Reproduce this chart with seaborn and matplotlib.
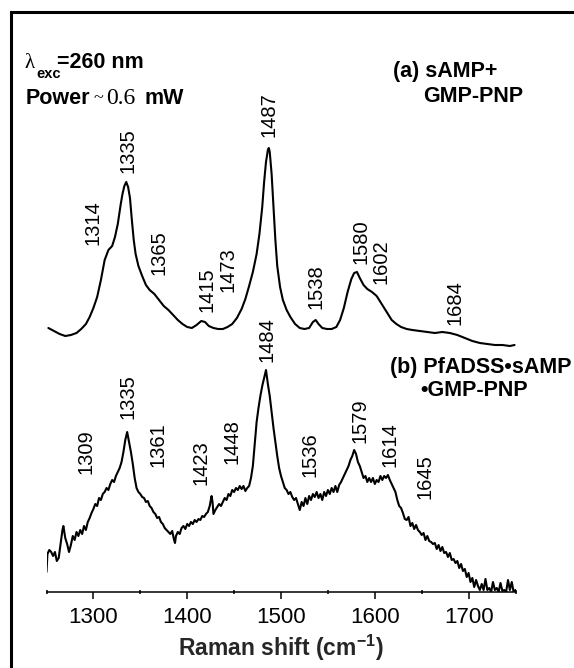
import matplotlib
matplotlib.use("Agg")
import matplotlib.pyplot as plt
import matplotlib.patches as mpatches
from matplotlib.ticker import MultipleLocator
import seaborn as sns
import pandas as pd

# Spectrum (a): sAMP + GMP-PNP (intensity in arbitrary units, offset upward)
wn_a = [1252, 1258, 1264, 1270, 1276, 1282, 1287, 1292, 1296, 1300, 1304, 1308,
        1312, 1316, 1320, 1323, 1326, 1329, 1331, 1333, 1335, 1337, 1339, 1341,
        1343, 1345, 1348, 1352, 1356, 1360, 1365, 1370, 1375, 1380, 1385, 1390,
        1395, 1400, 1405, 1410, 1415, 1419, 1423, 1428, 1433, 1438, 1443, 1448,
        1453, 1458, 1462, 1466, 1470, 1474, 1477, 1480, 1482, 1484, 1486, 1487,
        1488, 1490, 1492, 1494, 1496, 1499, 1502, 1506, 1510, 1515, 1520, 1525,
        1530, 1534, 1537, 1540, 1544, 1549, 1554, 1559, 1563, 1567, 1571, 1575,
        1578, 1581, 1584, 1588, 1592, 1597, 1602, 1606, 1610, 1614, 1618, 1623,
        1628, 1634, 1640, 1648, 1656, 1664, 1672, 1680, 1688, 1696, 1704, 1712,
        1720, 1728, 1736, 1744, 1749]
int_a = [264, 261, 258, 256, 257, 259, 263, 268, 275, 284, 295, 312,
         332, 342, 346, 355, 368, 387, 398, 406, 410, 405, 394, 372,
         352, 338, 326, 316, 307, 302, 298, 292, 286, 282, 277, 272,
         268, 265, 264, 267, 271, 270, 266, 264, 263, 263, 265, 268,
         274, 283, 293, 306, 320, 338, 358, 385, 410, 430, 442, 444,
         440, 418, 385, 352, 326, 305, 292, 282, 275, 268, 264, 263,
         264, 270, 272, 268, 264, 263, 263, 265, 272, 284, 300, 313,
         319, 320, 314, 307, 303, 300, 296, 290, 284, 278, 272, 268,
         265, 263, 262, 261, 260, 259, 260, 259, 257, 254, 251, 249,
         248, 247, 247, 246, 247]

# Spectrum (b): PfADSS•sAMP•GMP-PNP complex
wn_b = [1250, 1251, 1253, 1255, 1257, 1259, 1261, 1263, 1265, 1267, 1268, 1270,
        1272, 1274, 1276, 1278, 1280, 1282, 1284, 1286, 1288, 1290, 1292, 1294,
        1296, 1298, 1300, 1302, 1304, 1306, 1308, 1310, 1312, 1314, 1316, 1318,
        1320, 1322, 1324, 1326, 1328, 1330, 1332, 1334, 1336, 1338, 1340, 1342,
        1344, 1346, 1348, 1350, 1352, 1354, 1356, 1358, 1360, 1362, 1364, 1366,
        1368, 1370, 1372, 1374, 1376, 1378, 1380, 1382, 1384, 1386, 1387, 1388,
        1390, 1392, 1394, 1396, 1398, 1400, 1402, 1404, 1406, 1408, 1410, 1412,
        1414, 1416, 1418, 1420, 1422, 1424, 1426, 1427, 1428, 1430, 1432, 1434,
        1436, 1438, 1440, 1442, 1444, 1446, 1448, 1450, 1452, 1454, 1456, 1458,
        1460, 1462, 1464, 1466, 1468, 1470, 1472, 1474, 1476, 1478, 1480, 1482,
        1484, 1486, 1488, 1490, 1492, 1494, 1496, 1498, 1500, 1502, 1504, 1506,
        1508, 1510, 1512, 1514, 1516, 1518, 1520, 1522, 1524, 1526, 1528, 1530,
        1532, 1534, 1536, 1538, 1540, 1542, 1544, 1546, 1548, 1550, 1552, 1554,
        1556, 1558, 1560, 1562, 1564, 1566, 1568, 1570, 1572, 1574, 1576, 1578,
        1580, 1582, 1584, 1586, 1588, 1590, 1592, 1594, 1596, 1598, 1600, 1602,
        1604, 1606, 1608, 1610, 1612, 1614, 1616, 1618, 1620, 1622, 1624, 1626,
        1628, 1630, 1632, 1634, 1636, 1638, 1640, 1642, 1644, 1646, 1648, 1650,
        1652, 1654, 1656, 1658, 1660, 1662, 1664, 1666, 1668, 1670, 1672, 1674,
        1676, 1678, 1680, 1682, 1684, 1686, 1688, 1690, 1692, 1694, 1696, 1698,
        1700, 1702, 1704, 1706, 1708, 1710, 1712, 1714, 1716, 1718, 1720, 1722,
        1724, 1726, 1728, 1730, 1732, 1734, 1736, 1738, 1740, 1742, 1744, 1746,
        1748, 1750]
int_b = [20, 38, 42, 40, 36, 40, 31, 34, 48, 62, 66, 54,
         48, 40, 47, 56, 52, 60, 56, 62, 58, 66, 62, 70,
         74, 79, 83, 88, 86, 94, 92, 98, 100, 104, 102, 108,
         112, 110, 116, 120, 124, 130, 140, 152, 160, 150, 140, 128,
         114, 104, 100, 98, 95, 94, 90, 91, 86, 84, 80, 78,
         74, 75, 70, 68, 64, 62, 60, 58, 61, 52, 49, 56,
         60, 58, 64, 66, 63, 68, 66, 70, 68, 72, 70, 73,
         72, 76, 75, 78, 80, 86, 96, 90, 78, 82, 85, 88,
         86, 90, 94, 92, 98, 96, 102, 100, 104, 102, 106, 103,
         106, 101, 104, 106, 114, 126, 148, 170, 184, 196, 206, 214,
         222, 208, 196, 180, 164, 150, 136, 124, 116, 110, 104, 102,
         98, 100, 95, 92, 94, 88, 82, 90, 86, 94, 88, 96,
         92, 98, 95, 100, 94, 98, 92, 100, 96, 102, 98, 104,
         100, 106, 100, 107, 110, 114, 118, 122, 126, 132, 136, 142,
         138, 130, 126, 120, 114, 116, 110, 114, 110, 114, 108, 112,
         110, 116, 112, 116, 114, 117, 112, 108, 104, 100, 92, 86,
         84, 79, 73, 72, 75, 66, 69, 63, 67, 62, 60, 57,
         59, 52, 56, 51, 50, 48, 49, 43, 47, 41, 45, 39,
         40, 35, 39, 32, 33, 29, 31, 24, 28, 21, 23, 15,
         19, 10, 14, 5, 12, 6, 2, 8, 2, 13, 2, 4,
         0, 10, 2, 4, 0, 9, 1, 2, 0, 12, 2, 10,
         0, 2]

# Band assignments: label text, x position, y position
labels_a = [("1314", 1299.6, 369), ("1335", 1336.9, 441), ("1365", 1369.9, 339),
            ("1415", 1420.6, 302), ("1473", 1444.0, 322), ("1487", 1487.2, 477),
            ("1538", 1537.3, 305), ("1580", 1585.8, 350), ("1602", 1607.1, 330),
            ("1684", 1685.5, 289)]
labels_b = [("1309", 1292.1, 140), ("1335", 1337.4, 195), ("1361", 1368.9, 147),
            ("1423", 1415.2, 129), ("1448", 1447.7, 150), ("1484", 1485.6, 252),
            ("1536", 1530.9, 137), ("1579", 1584.2, 171), ("1614", 1616.2, 147),
            ("1645", 1653.5, 115)]

x_ticks = [1300, 1400, 1500, 1600, 1700]

sns.set_style("white")
plt.rcParams["font.family"] = ["Liberation Sans", "DejaVu Sans"]

W, H = 574, 668
fig = plt.figure(figsize=(W / 100, H / 100), dpi=100)
ax = fig.add_axes([46.5 / W, 1 - 592 / H, 469 / W, 580 / H])

df_a = pd.DataFrame({"wn": wn_a, "I": int_a})
df_b = pd.DataFrame({"wn": wn_b, "I": int_b})
sns.lineplot(data=df_a, x="wn", y="I", ax=ax, color="black", linewidth=1.5,
             estimator=None, sort=False)
sns.lineplot(data=df_b, x="wn", y="I", ax=ax, color="black", linewidth=1.5,
             estimator=None, sort=False)

ax.set_xlim(1250, 1750)
ax.set_ylim(0, 580)
ax.set_yticks([])
ax.set_ylabel("")
for side in ("left", "top", "right"):
    ax.spines[side].set_visible(False)
ax.spines["bottom"].set_color("black")
ax.spines["bottom"].set_linewidth(1.1)
ax.set_xticks(x_ticks)
ax.xaxis.set_minor_locator(MultipleLocator(50))
ax.tick_params(axis="x", which="major", direction="out", length=5, width=1.1,
               colors="black", labelsize=16, pad=6, bottom=True)
ax.tick_params(axis="x", which="minor", direction="inout", length=3.5, width=1.1,
               colors="black", bottom=True)
ax.set_xlabel("Raman shift (cm$^{\\mathregular{-1}}$)", fontsize=16.5,
              fontweight="bold", labelpad=3)

for txt, x, y in labels_a + labels_b:
    ax.text(x, y, txt, rotation=90, ha="center", va="center", fontsize=14.5,
            color="black")

# Sample descriptions
bold = dict(fontsize=15.5, fontweight="bold", color="black", va="center")
ax.text(1619.4, 521, "(a) sAMP+", ha="left", **bold)
ax.text(1651.3, 495, "GMP-PNP", ha="left", **bold)
ax.text(1616.2, 225, "(b) PfADSS\u2022sAMP", ha="left", clip_on=False, **bold)
ax.text(1648.2, 201, "\u2022GMP-PNP", ha="left", **bold)

# Excitation conditions (figure pixel positions, measured from the top)
def ftext(px, py, s, **kw):
    fig.text(px / W, 1 - py / H, s, va="center", ha="left", color="black", **kw)

serif = ["Liberation Serif", "DejaVu Serif"]
ftext(24, 63, "\u03bb", fontsize=15, family=serif)
ftext(36, 74, "exc", fontsize=10.5, fontweight="bold")
ftext(57, 63, "=260 nm", fontsize=15.5, fontweight="bold")
ftext(26, 98, "Power", fontsize=15.5, fontweight="bold")
ftext(94, 99, "~", fontsize=13, family=serif)
ftext(106, 98, "0.6", fontsize=17, family=serif)
ftext(144, 98, "mW", fontsize=15.5, fontweight="bold")

# Outer frame, open beyond the right and bottom edges
fig.add_artist(mpatches.Rectangle((11 / W, -0.2), 1.3, (1 - 12 / H) + 0.2,
                                  transform=fig.transFigure, fill=False,
                                  edgecolor="black", linewidth=2.2))

fig.savefig("out.png", dpi=100)
